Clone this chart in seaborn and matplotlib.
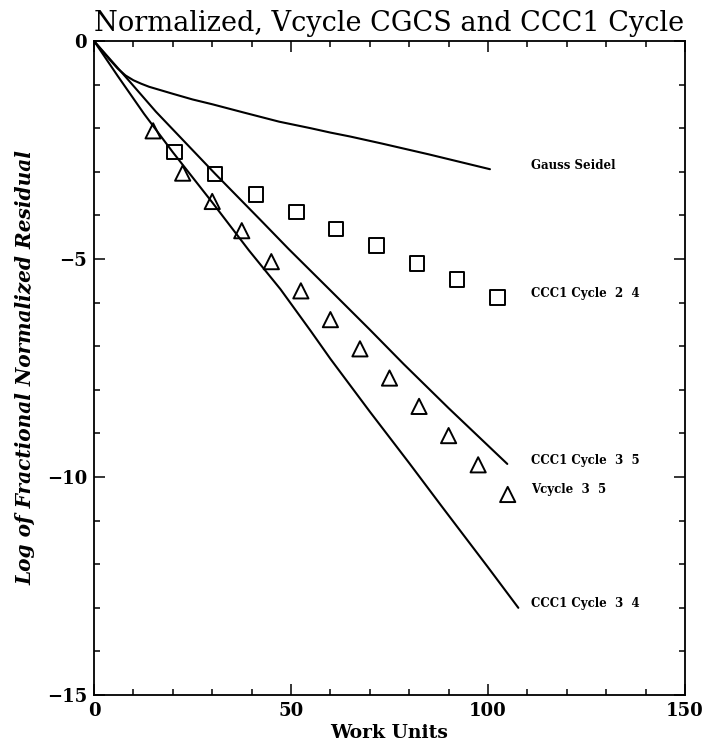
import matplotlib
matplotlib.use("Agg")
import matplotlib.pyplot as plt
import seaborn as sns
import pandas as pd
from matplotlib.ticker import MultipleLocator

# ---- data ----
gs_x = [0, 2, 4, 6, 8, 10, 12, 14, 17, 20, 25, 30, 38, 47, 55, 60, 65, 73, 85, 100.5]
gs_y = [0, -0.22, -0.43, -0.63, -0.79, -0.90, -0.98, -1.05, -1.13, -1.21, -1.34,
        -1.45, -1.64, -1.85, -2.0, -2.1, -2.19, -2.35, -2.6, -2.94]

c35_x = [0, 8, 15.7, 30.8, 42.2, 49.4, 60, 70, 78.6, 90, 104.9]
c35_y = [0, -0.82, -1.62, -3.05, -4.1, -4.77, -5.72, -6.62, -7.41, -8.42, -9.70]

c34_x = [0, 6, 12.7, 20, 30, 39.3, 47.3, 55, 60, 70, 80, 88.4, 100, 107.7]
c34_y = [0, -0.8, -1.67, -2.55, -3.7, -4.8, -5.69, -6.65, -7.29, -8.5, -9.68,
         -10.69, -12.07, -13.0]

c24_x = [20.4, 30.8, 41.1, 51.4, 61.5, 71.7, 82.0, 92.2, 102.4]
c24_y = [-2.54, -3.05, -3.52, -3.93, -4.31, -4.69, -5.10, -5.47, -5.88]

v35_x = [15, 22.5, 30, 37.5, 45, 52.5, 60, 67.5, 75, 82.5, 90, 97.5, 105]
v35_y = [-2.06, -3.03, -3.68, -4.35, -5.06, -5.73, -6.39, -7.06, -7.73, -8.38,
         -9.05, -9.72, -10.40]

label_text = ["Gauss Seidel", "CCC1 Cycle  2  4", "CCC1 Cycle  3  5",
              "Vcycle  3  5", "CCC1 Cycle  3  4"]
label_y = [-2.85, -5.80, -9.63, -10.29, -12.91]
label_x = 111

title = "Normalized, Vcycle CGCS and CCC1 Cycle"
xlabel = "Work Units"
ylabel = "Log of Fractional Normalized Residual"
xticks = [0, 50, 100, 150]
yticks = [0, -5, -10, -15]
yticklabels = ["0", "\u22125", "\u221210", "\u221215"]

sns.set_style("ticks")
plt.rcParams['font.family'] = ['DejaVu Serif', 'DejaVu Sans']
plt.rcParams['text.color'] = 'black'
plt.rcParams['axes.labelcolor'] = 'black'
plt.rcParams['xtick.color'] = 'black'
plt.rcParams['ytick.color'] = 'black'

fig = plt.figure(figsize=(7.08, 7.5), dpi=100)
ax = fig.add_axes([0.1328, 0.0733, 0.8347, 0.872])

for xs, ys in [(gs_x, gs_y), (c35_x, c35_y), (c34_x, c34_y)]:
    df = pd.DataFrame({"x": xs, "y": ys})
    sns.lineplot(data=df, x="x", y="y", ax=ax, color="black", linewidth=1.5,
                 estimator=None, sort=False)

df24 = pd.DataFrame({"x": c24_x, "y": c24_y})
sns.scatterplot(data=df24, x="x", y="y", ax=ax, marker="s", s=105,
                facecolor="none", edgecolor="black", linewidth=1.4)
dfv = pd.DataFrame({"x": v35_x, "y": v35_y})
sns.scatterplot(data=dfv, x="x", y="y", ax=ax, marker="^", s=120,
                facecolor="none", edgecolor="black", linewidth=1.4)

for t, yv in zip(label_text, label_y):
    ax.text(label_x, yv, t, fontsize=8.5, fontweight="bold", va="center",
            ha="left", color="black")

ax.set_xlim(0, 150)
ax.set_ylim(-15, 0)
ax.set_xticks(xticks)
ax.set_yticks(yticks)
ax.set_yticklabels(yticklabels)
ax.xaxis.set_minor_locator(MultipleLocator(10))
ax.yaxis.set_minor_locator(MultipleLocator(1))
ax.tick_params(which="both", direction="in", top=True, right=True,
               color="black", width=1.1)
ax.tick_params(which="major", length=8, labelsize=13, pad=5)
ax.tick_params(which="minor", length=4)
for lab in ax.get_xticklabels() + ax.get_yticklabels():
    lab.set_fontweight("bold")
for sp in ax.spines.values():
    sp.set_linewidth(1.3)
    sp.set_color("black")

ax.set_title(title, fontsize=19.5, pad=7, color="black")
ax.set_xlabel(xlabel, fontsize=13.5, fontweight="bold", labelpad=3)
ax.set_ylabel(ylabel, fontsize=14.5, fontweight="bold", fontstyle="italic",
              labelpad=8)

fig.savefig("out.png", dpi=100)
